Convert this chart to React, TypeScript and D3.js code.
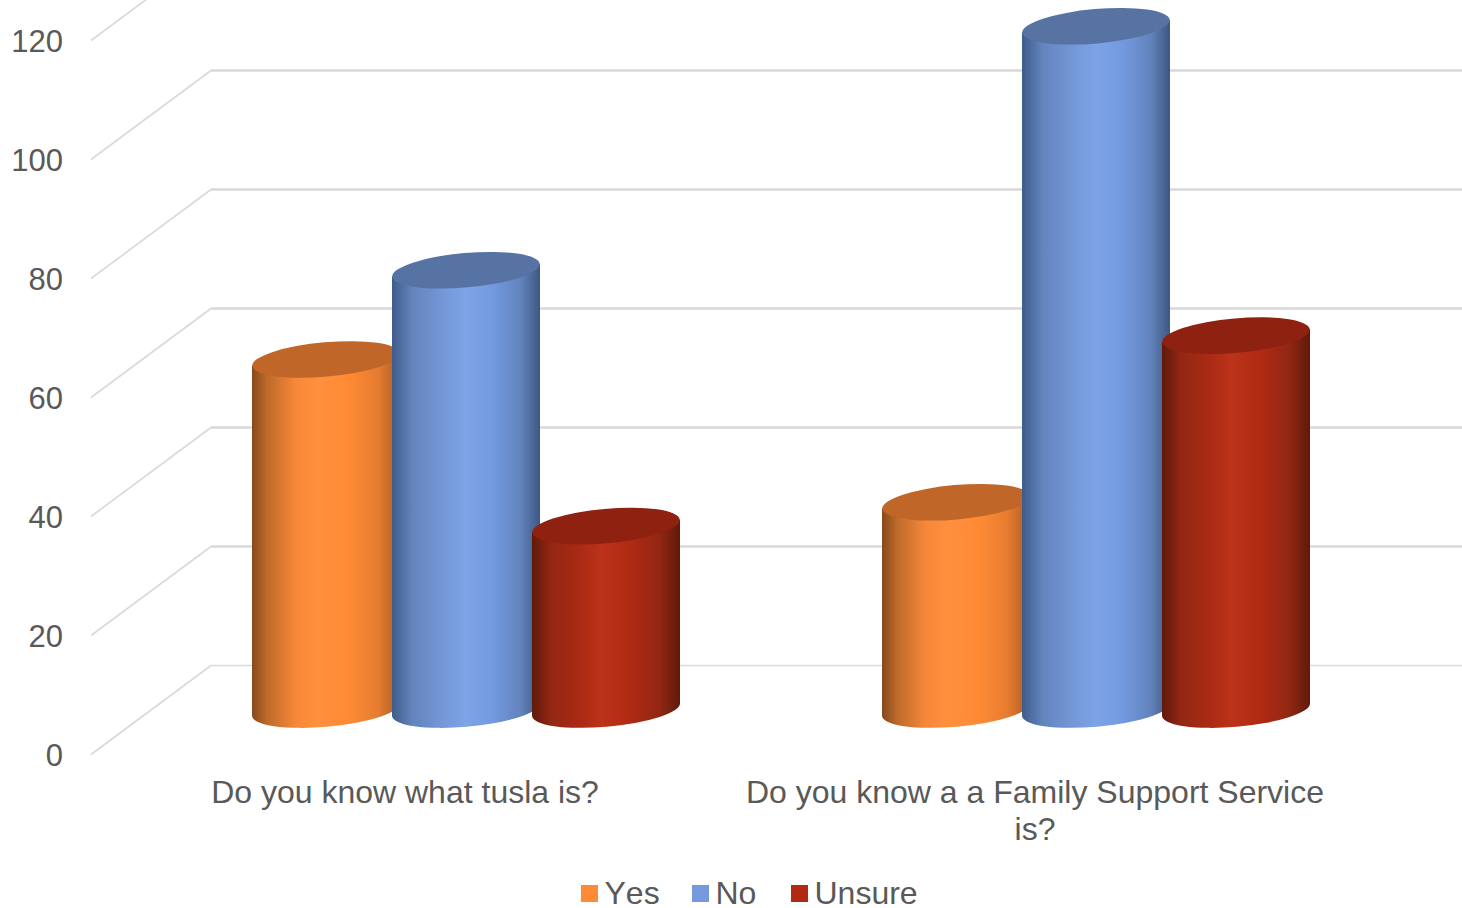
import React from "react";
import * as d3 from "d3";

const categories = ["Do you know what tusla is?", "Do you know a a Family Support Service is?"];
const categoryLines = [["Do you know what tusla is?"], ["Do you know a a Family Support Service", "is?"]];
const seriesNames = ["Yes", "No", "Unsure"];
const yesValues = [59, 35];
const noValues = [74, 115];
const unsureValues = [31, 63];
const yTicks = [0, 20, 40, 60, 80, 100, 120];

const palette = [
  {
    key: "yes", legend: "#ff8a36", top: "#c06628",
    stops: [[0, "#85491c"], [0.1, "#bd6a2a"], [0.3, "#f7883a"], [0.45, "#ff903d"], [0.65, "#ff8a35"], [0.85, "#e67c30"], [1, "#a85c24"]],
  },
  {
    key: "no", legend: "#7599dc", top: "#5673a4",
    stops: [[0, "#3f5c8a"], [0.14, "#6384bd"], [0.35, "#7498d8"], [0.5, "#7ea3e6"], [0.68, "#7399e0"], [0.87, "#6283bb"], [1, "#3e5784"]],
  },
  {
    key: "unsure", legend: "#b02a14", top: "#8e2110",
    stops: [[0, "#611a0a"], [0.13, "#922713"], [0.32, "#ab2a14"], [0.47, "#bb3319"], [0.66, "#b02a13"], [0.86, "#922713"], [1, "#5f1a0a"]],
  },
];

const seriesValues = [yesValues, noValues, unsureValues];

const W = 1462;
const H = 908;

// Oblique projection of the 3D box: back plane is shifted right and up from the front plane.
const depthX = 120;
const depthY = -89;
const frontX = 91;
const yFront = d3.scaleLinear().domain([0, 120]).range([754, 40]);
const yMid = (v: number) => yFront(v) + depthY / 2 + 1;

const xCategory = d3.scaleBand<string>().domain(categories).range([151, 1411]);
const xSeries = d3.scalePoint<string>().domain(seriesNames).range([-140, 140]);

const RX = 74;
const RY = 17.2;
const TILT = -5;
const sideDy = 6.3;
const baseLift = 1;

function cylinderBody(cx: number, cyTop: number, cyBase: number) {
  const lx = cx - RX;
  const rx = cx + RX;
  return [
    `M${lx},${cyTop + sideDy}`,
    `L${lx},${cyBase + sideDy}`,
    `A${RX},${RY} ${TILT} 0 0 ${rx},${cyBase - sideDy}`,
    `L${rx},${cyTop - sideDy}`,
    "Z",
  ].join(" ");
}

export default function App() {
  return (
    <svg
      width={W}
      height={H}
      viewBox={`0 0 ${W} ${H}`}
      style={{ position: "absolute", left: 0, top: 0, display: "block", background: "#fff", fontKerning: "none" }}
      fontFamily="'Liberation Sans', Arial, sans-serif"
    >
      <defs>
        {palette.map((p) => (
          <linearGradient id={`grad-${p.key}`} key={p.key} x1="0" x2="1" y1="0" y2="0">
            {p.stops.map(([o, c]) => (
              <stop key={String(o)} offset={Number(o)} stopColor={String(c)} />
            ))}
          </linearGradient>
        ))}
      </defs>

      {/* side wall and back wall gridlines */}
      {yTicks.map((t) => (
        <g key={t} fill="none" stroke="#d9d9d9">
          <line x1={frontX} y1={yFront(t) + 0.5} x2={frontX + depthX} y2={yFront(t) + depthY + 0.5} strokeWidth={1.6} />
          <line x1={frontX + depthX} y1={yFront(t) + depthY + 0.5} x2={W} y2={yFront(t) + depthY + 0.5} strokeWidth={t === 0 ? 1.6 : 2.6} />
        </g>
      ))}

      {/* value axis labels */}
      {yTicks.map((t) => (
        <text key={t} x={63} y={yFront(t) + 12} textAnchor="end" fontSize={31} fill="#595959">
          {t}
        </text>
      ))}

      {/* cylinders, drawn left to right so each overlaps the previous one */}
      {categories.map((cat, i) =>
        seriesNames.map((s, j) => {
          const cx = (xCategory(cat) as number) + xCategory.bandwidth() / 2 + (xSeries(s) as number);
          const cyTop = yMid(seriesValues[j][i]);
          const cyBase = yMid(0) - baseLift;
          return (
            <g key={`${cat}-${s}`}>
              <path d={cylinderBody(cx, cyTop, cyBase)} fill={`url(#grad-${palette[j].key})`} />
              <ellipse
                cx={cx}
                cy={cyTop}
                rx={RX}
                ry={RY}
                transform={`rotate(${TILT} ${cx} ${cyTop})`}
                fill={palette[j].top}
              />
            </g>
          );
        })
      )}

      {/* category labels */}
      {categories.map((cat, i) => (
        <text key={cat} textAnchor="middle" fontSize={32} fill="#595959">
          {categoryLines[i].map((line, k) => (
            <tspan
              key={k}
              x={(xCategory(cat) as number) + xCategory.bandwidth() / 2 - 61}
              y={803 + k * 37}
            >
              {line}
            </tspan>
          ))}
        </text>
      ))}

      {/* legend */}
      {seriesNames.map((s, j) => {
        const x = [581, 692, 791][j];
        return (
          <g key={s}>
            <rect x={x} y={885} width={17} height={17} fill={palette[j].legend} />
            <text x={x + 23.5} y={904} fontSize={32} fill="#595959">
              {s}
            </text>
          </g>
        );
      })}
    </svg>
  );
}
